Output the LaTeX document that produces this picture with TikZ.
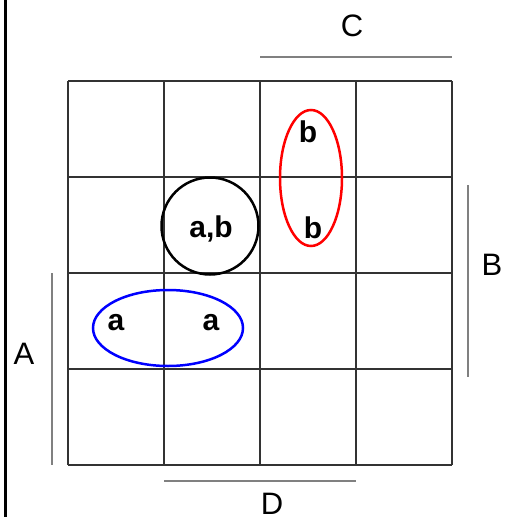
\documentclass[tikz,border=0pt]{standalone}
\usepackage{fontspec}
\setmainfont{Liberation Sans}
\usetikzlibrary{positioning}
\definecolor{gridC}{HTML}{333333}
\definecolor{barC}{HTML}{808080}

\tikzset{
  varlbl/.style={font=\fontsize{31}{31}\selectfont,inner sep=0pt},
  celllbl/.style={font=\fontsize{30}{30}\selectfont\bfseries,inner sep=0pt},
  bar/.style={barC,line width=2pt},
  loop/.style={line width=2.5pt}
}

\begin{document}
\begin{tikzpicture}[x=1pt,y=-1pt]
  \useasboundingbox (0,0) rectangle (504,517);

  % page border on the left
  \draw[line width=3pt] (5,0) -- (5,517);

  % the 4x4 grid
  \foreach \i in {0,...,4}{
    \draw[gridC,line width=1.3pt] (68+96*\i,81) -- (68+96*\i,465);
    \draw[gridC,line width=1.3pt] (68,81+96*\i) -- (452,81+96*\i);
  }

  % variable bars
  \draw[bar] (260,57) -- (452,57);
  \draw[bar] (468,185) -- (468,377);
  \draw[bar] (52,273) -- (52,465);
  \draw[bar] (164,481) -- (356,481);

  % variable names
  \node[varlbl] (varC) at (352,26) {C};
  \node[varlbl] (varB) at (492,265) {B};
  \node[varlbl] (varA) at (24,354) {A};
  \node[varlbl] (varD) at (272,504) {D};

  % cell entries
  \node[celllbl] (bTop) at (308,132) {b};
  \node[celllbl] (bMid) at (313,228) {b};
  \node[celllbl] (ab) at (211,229) {a,b};
  \node[celllbl] (aLeft) at (116,323) {a};
  \node[celllbl] (aRight) at (211,323) {a};

  % groupings
  \draw[loop,red] (311,178) ellipse (31 and 68);
  \draw[loop,black] (210,226) circle (48.5);
  \draw[loop,blue] (168,328) ellipse (75 and 38);
\end{tikzpicture}
\end{document}
